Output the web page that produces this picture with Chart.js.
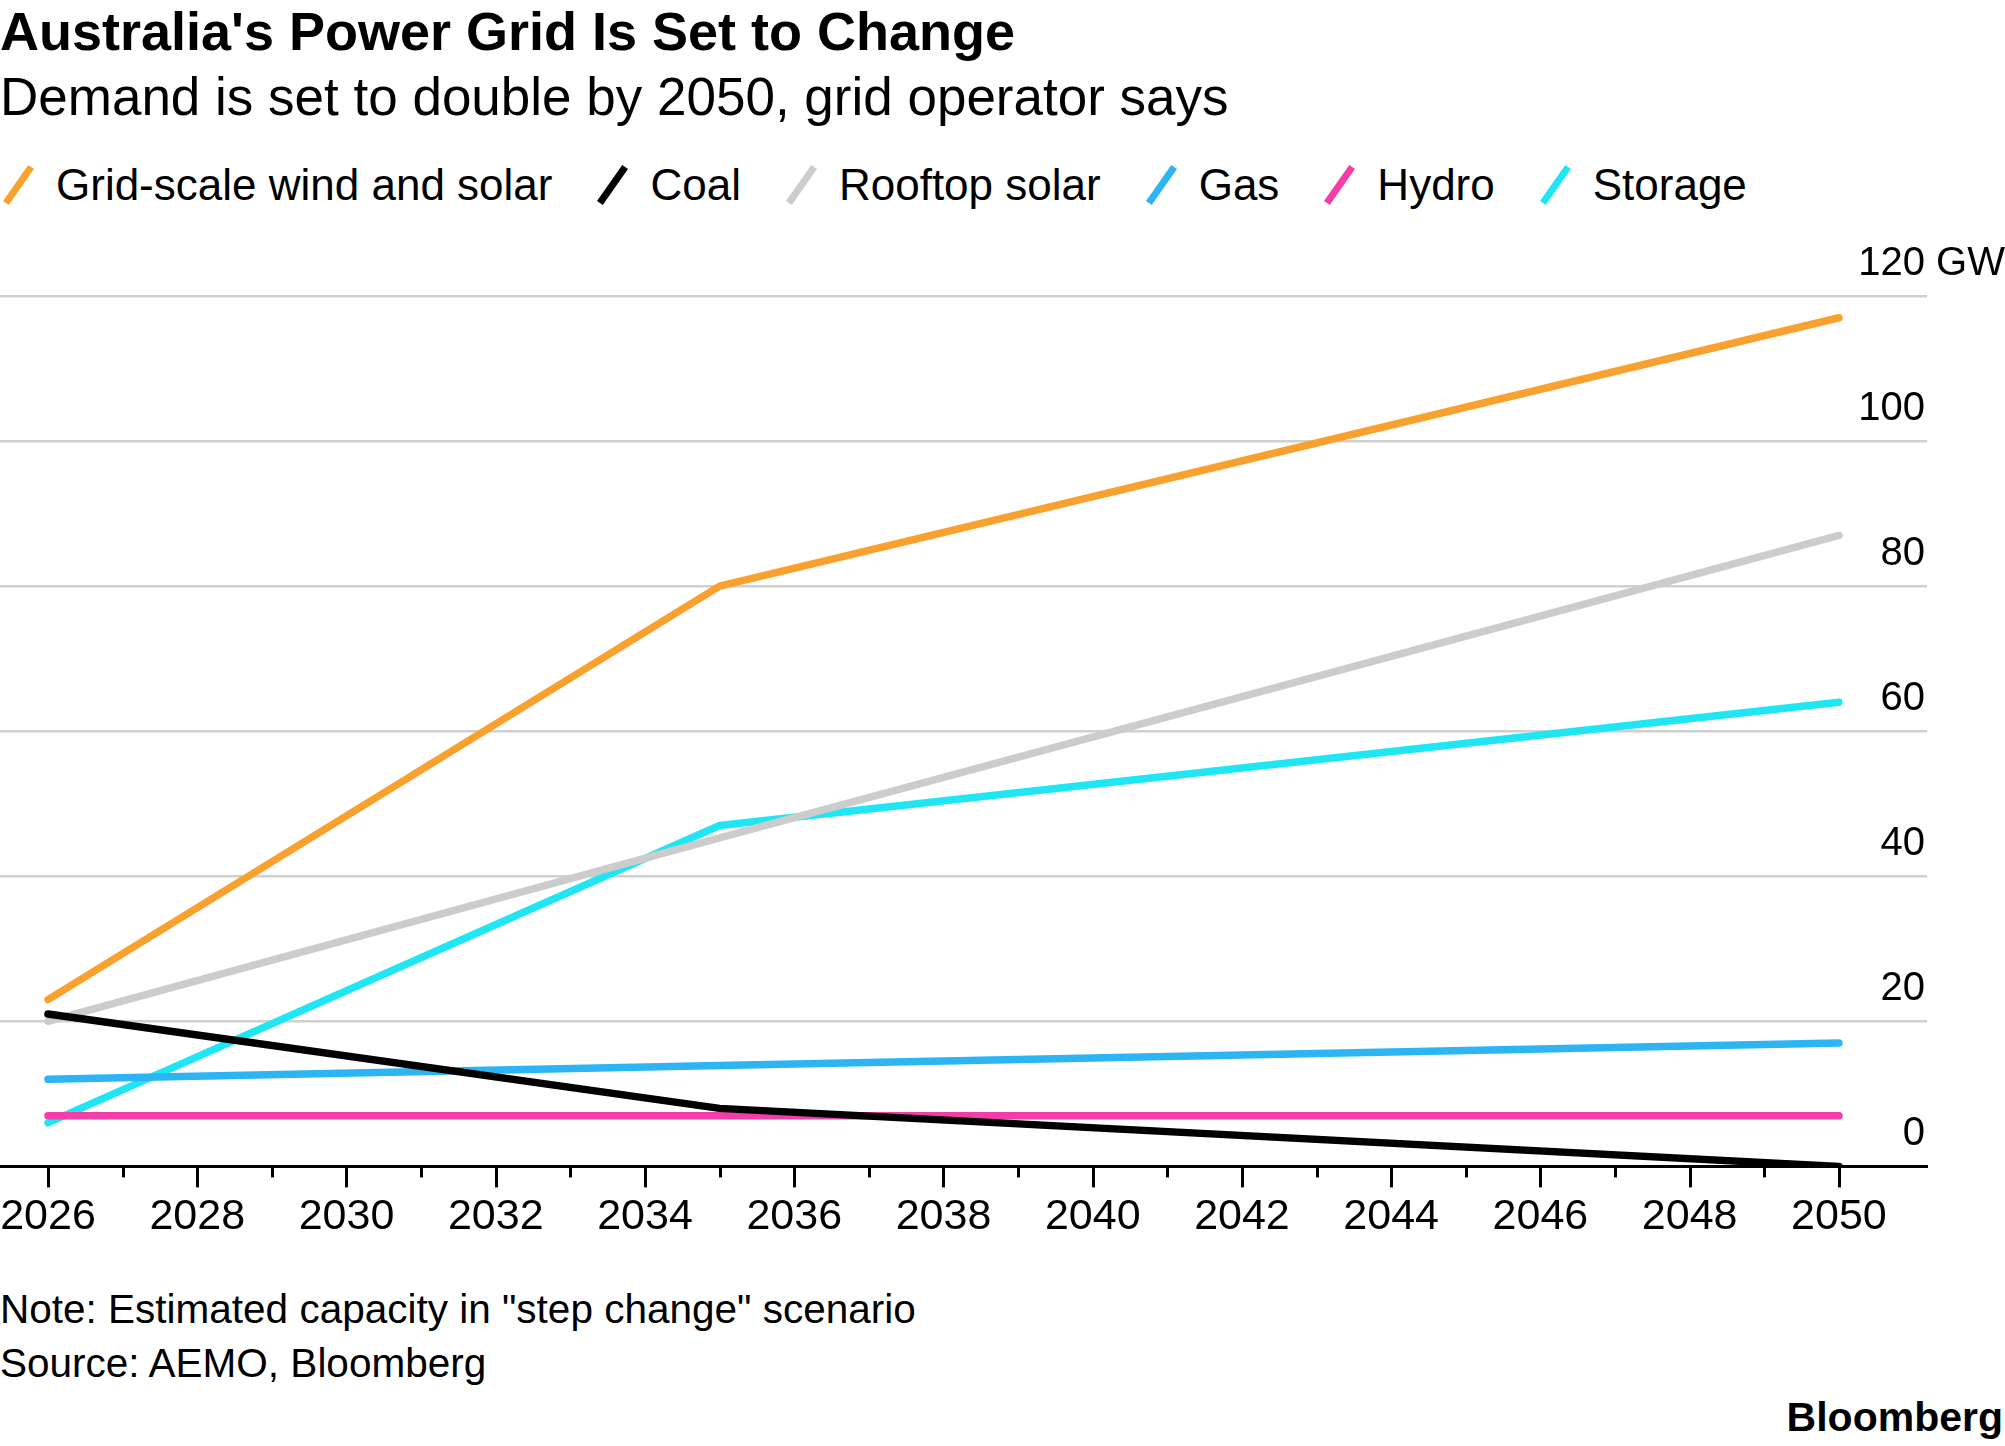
<!DOCTYPE html>
<html>
<head>
<meta charset="utf-8">
<script src="https://cdn.jsdelivr.net/npm/chart.js@4/dist/chart.umd.min.js"></script>
<style>
  html, body { margin: 0; padding: 0; background: #fff; }
  body { width: 2005px; height: 1446px; position: relative; overflow: hidden;
         font-family: "Liberation Sans", Arial, sans-serif; color: #000; }
  .abs { position: absolute; white-space: nowrap; line-height: 1; }
  #title { left: 0; top: 4px; font-size: 54px; font-weight: bold; }
  #subtitle { left: 0; top: 70px; font-size: 53px; }
  #legend { left: -1px; top: 163px; display: flex; align-items: center; font-size: 44px; }
  .item { display: flex; align-items: center; margin-right: 41px; }
  .mark { width: 7px; height: 44px; transform: rotate(35deg); margin: 0 34px 0 16px; }
  #note { left: 0; top: 1289px; font-size: 40.5px; }
  #source { left: 0; top: 1343px; font-size: 40.5px; }
  #brand { right: 2px; top: 1397px; font-size: 41px; font-weight: bold; }
  #wrap { position: absolute; left: 0; top: 240px; width: 2005px; height: 1028px; }
</style>
</head>
<body>
<div id="title" class="abs">Australia's Power Grid Is Set to Change</div>
<div id="subtitle" class="abs">Demand is set to double by 2050, grid operator says</div>
<div id="legend" class="abs"></div>
<div id="wrap"><canvas id="chart"></canvas></div>
<div id="note" class="abs">Note: Estimated capacity in "step change" scenario</div>
<div id="source" class="abs">Source: AEMO, Bloomberg</div>
<div id="brand" class="abs">Bloomberg</div>

<script>
// -------------------
// DATA (GW, step change scenario)

const years = [2026, 2035, 2050];

const gridScale = [23, 80, 117];
const coal = [21, 8, 0];
const rooftop = [20, 45.3, 87];
const gas = [12, 13.9, 17];
const hydro = [7, 7, 7];
const storage = [6, 47, 64];

const seriesNames = ["Grid-scale wind and solar", "Coal", "Rooftop solar", "Gas", "Hydro", "Storage"];
const seriesColors = ["#f9a12e", "#000000", "#cccccc", "#2cb5f2", "#f23ea8", "#1fe6f2"];

const yTicks = [0, 20, 40, 60, 80, 100, 120];
const yearTicks = [2026, 2027, 2028, 2029, 2030, 2031, 2032, 2033, 2034, 2035, 2036, 2037,
  2038, 2039, 2040, 2041, 2042, 2043, 2044, 2045, 2046, 2047, 2048, 2049, 2050];

// -------------------
// LEGEND

const legendHTML = document.getElementById("legend");
seriesNames.forEach((name, i) => {
  const item = document.createElement("div");
  item.className = "item";
  item.innerHTML = `<span class="mark" style="background:${seriesColors[i]}"></span><span>${name}</span>`;
  legendHTML.appendChild(item);
});

// -------------------
// CHART

const allSeries = [gridScale, coal, rooftop, gas, hydro, storage];
const toPoints = values => values.map((v, i) => ({ x: years[i], y: v }));

const datasets = allSeries.map((values, i) => {
  return {
    label: seriesNames[i],
    data: toPoints(values),
    borderColor: seriesColors[i],
    borderWidth: 7.5,
    borderCapStyle: "round",
    borderJoinStyle: "round",
    pointRadius: 0,
    tension: 0,
  };
});

// ticks under the axis and y labels sitting above the gridlines
const axisExtras = {
  id: "axisExtras",
  afterDraw(chart) {
    const { ctx, chartArea, scales } = chart;
    const x = scales.x;
    const y = scales.y;
    ctx.save();
    ctx.strokeStyle = "#000";
    ctx.lineWidth = 3;
    yearTicks.forEach(yr => {
      const px = Math.round(x.getPixelForValue(yr)) + 0.5;
      const len = yr % 2 === 0 ? 21 : 11;
      ctx.beginPath();
      ctx.moveTo(px, chartArea.bottom);
      ctx.lineTo(px, chartArea.bottom + len);
      ctx.stroke();
    });

    ctx.fillStyle = "#000";
    ctx.font = '40px "Liberation Sans", Arial, sans-serif';
    ctx.textBaseline = "alphabetic";
    const right = chartArea.right - 2;
    yTicks.forEach(v => {
      const py = y.getPixelForValue(v) - 21;
      ctx.textAlign = "right";
      ctx.fillText(String(v), right, py);
      if (v === 120) {
        ctx.textAlign = "left";
        ctx.fillText(" GW", right, py);
      }
    });
    ctx.restore();
  },
};

const chartSettings = {
  type: "line",
  data: { datasets: datasets },
  options: {
    responsive: true,
    maintainAspectRatio: false,
    animation: false,
    layout: { padding: { top: 56, right: 78, left: 0, bottom: 0 } },
    plugins: {
      legend: { display: false },
      tooltip: { enabled: false },
    },
    scales: {
      x: {
        type: "linear",
        min: 2025.357,
        max: 2051.18,
        afterBuildTicks: scale => {
          scale.ticks = yearTicks.map(v => ({ value: v }));
        },
        // let the first label hang off the left edge like the original
        afterFit: scale => {
          scale.paddingLeft = 0;
          scale.paddingRight = 0;
        },
        grid: { display: false, drawTicks: false },
        border: { display: true, color: "#000", width: 3 },
        ticks: {
          autoSkip: false,
          maxRotation: 0,
          padding: 25,
          color: "#000",
          font: { family: '"Liberation Sans", Arial, sans-serif', size: 43 },
          callback: v => (v % 2 === 0 ? String(v) : ""),
        },
      },
      y: {
        position: "right",
        min: 0,
        max: 120,
        afterBuildTicks: scale => {
          scale.ticks = yTicks.map(v => ({ value: v }));
        },
        grid: { color: "#d0d0d0", lineWidth: 2.5, drawTicks: false },
        border: { display: false },
        ticks: { display: false },
      },
    },
  },
  plugins: [axisExtras],
};

const chartHTML = document.getElementById("chart");
const powerChart = new Chart(chartHTML, chartSettings);
</script>
</body>
</html>
